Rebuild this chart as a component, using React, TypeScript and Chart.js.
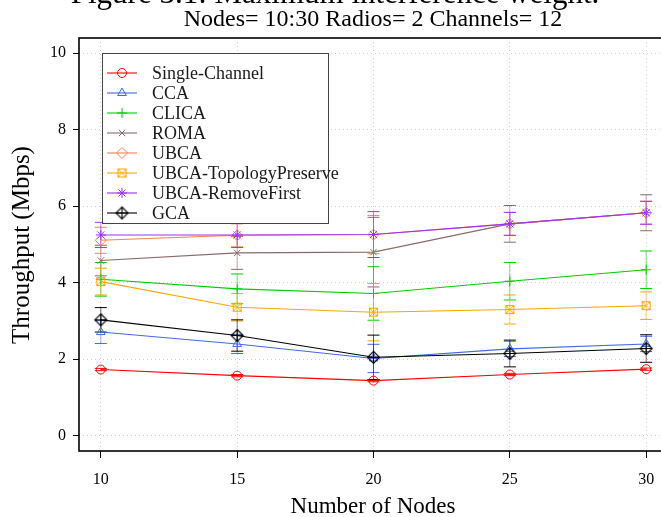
import { useEffect, useRef } from "react";
import { Chart, registerables } from "chart.js";
import { drawPoint } from "chart.js/helpers";

Chart.register(...registerables);

// Network sizes on the x axis
const nodes = [10, 15, 20, 25, 30];
const xTicks = [10, 15, 20, 25, 30];
const yTicks = [0, 2, 4, 6, 8, 10];

// Mean throughput (Mbps) and standard deviation per algorithm
const singleChannel = [1.73, 1.57, 1.44, 1.6, 1.74];
const singleChannelErr = [0.03, 0.03, 0.03, 0.03, 0.03];
const cca = [2.71, 2.4, 2.02, 2.27, 2.4];
const ccaErr = [0.3, 0.25, 0.37, 0.2, 0.2];
const clica = [4.09, 3.84, 3.72, 4.04, 4.34];
const clicaErr = [0.44, 0.39, 0.7, 0.49, 0.49];
const roma = [4.58, 4.78, 4.8, 5.54, 5.83];
const romaErr = [0.4, 0.43, 0.91, 0.48, 0.47];
const ubca = [5.11, 5.24, 5.26, 5.54, 5.83];
const ubcaErr = [0.34, 0.3, 0.5, 0.3, 0.3];
const ubcaTopology = [4.03, 3.36, 3.23, 3.3, 3.4];
const ubcaTopologyErr = [0.35, 0.36, 0.75, 0.38, 0.36];
const ubcaRemoveFirst = [5.25, 5.25, 5.26, 5.54, 5.83];
const ubcaRemoveFirstErr = [0.33, 0.33, 0.6, 0.3, 0.3];
const gca = [3.03, 2.62, 2.05, 2.15, 2.28];
const gcaErr = [0.32, 0.41, 0.58, 0.35, 0.36];

const seriesNames = [
  "Single-Channel",
  "CCA",
  "CLICA",
  "ROMA",
  "UBCA",
  "UBCA-TopologyPreserve",
  "UBCA-RemoveFirst",
  "GCA",
];
const seriesValues = [singleChannel, cca, clica, roma, ubca, ubcaTopology, ubcaRemoveFirst, gca];
const seriesErrors = [
  singleChannelErr,
  ccaErr,
  clicaErr,
  romaErr,
  ubcaErr,
  ubcaTopologyErr,
  ubcaRemoveFirstErr,
  gcaErr,
];
const seriesColors = [
  "#ff0000",
  "#4169e1",
  "#00cd00",
  "#8b6969",
  "#ff7f50",
  "#ffa500",
  "#9b30ff",
  "#000000",
];

const titleText = "Figure 3.1: Maximum interference weight.";
const subtitleText = "Nodes= 10:30 Radios= 2 Channels= 12";
const xTitle = "Number of Nodes";
const yTitle = "Throughput (Mbps)";

const SERIF = '"Liberation Serif", "Times New Roman", serif';

// Square with an X through it
function boxedCross(color: string): HTMLCanvasElement {
  const c = document.createElement("canvas");
  c.width = 13;
  c.height = 13;
  const g = c.getContext("2d")!;
  g.strokeStyle = color;
  g.lineWidth = 1;
  g.strokeRect(2.5, 2.5, 8, 8);
  g.beginPath();
  g.moveTo(2.5, 2.5);
  g.lineTo(10.5, 10.5);
  g.moveTo(10.5, 2.5);
  g.lineTo(2.5, 10.5);
  g.stroke();
  return c;
}

// Diamond with a plus inside
function diamondPlus(color: string): HTMLCanvasElement {
  const c = document.createElement("canvas");
  c.width = 15;
  c.height = 15;
  const g = c.getContext("2d")!;
  g.strokeStyle = color;
  g.lineWidth = 1.1;
  g.beginPath();
  g.moveTo(7.5, 1.5);
  g.lineTo(13.5, 7.5);
  g.lineTo(7.5, 13.5);
  g.lineTo(1.5, 7.5);
  g.closePath();
  g.moveTo(1.5, 7.5);
  g.lineTo(13.5, 7.5);
  g.moveTo(7.5, 1.5);
  g.lineTo(7.5, 13.5);
  g.stroke();
  return c;
}

export default function App() {
  const canvasRef = useRef<HTMLCanvasElement | null>(null);

  useEffect(() => {
    const canvas = canvasRef.current;
    if (!canvas) return;

    const pointStyles: any[] = [
      "circle",
      "triangle",
      "cross",
      "crossRot",
      "rectRot",
      boxedCross(seriesColors[5]),
      "star",
      diamondPlus(seriesColors[7]),
    ];
    const pointRadii = [4.5, 5, 5, 4.5, 5.5, 5, 5, 6];

    const datasets = seriesNames.map((name, i) => ({
      label: name,
      data: nodes.map((n, j) => ({ x: n, y: seriesValues[i][j] })),
      showLine: true,
      borderColor: seriesColors[i],
      borderWidth: 1.1,
      backgroundColor: "rgba(0,0,0,0)",
      pointStyle: pointStyles[i],
      pointRadius: pointRadii[i],
      pointBorderWidth: 1,
      pointBorderColor: seriesColors[i],
      pointBackgroundColor: "rgba(0,0,0,0)",
      order: -i,
    }));

    const errorBars = {
      id: "errorBars",
      beforeDatasetsDraw(chart: any) {
        const { ctx, scales } = chart;
        ctx.save();
        seriesValues.forEach((vals, i) => {
          ctx.strokeStyle = seriesColors[i];
          ctx.lineWidth = 1;
          vals.forEach((v, j) => {
            const e = seriesErrors[i][j];
            const x = scales.x.getPixelForValue(nodes[j]);
            const yTop = scales.y.getPixelForValue(v + e);
            const yBot = scales.y.getPixelForValue(v - e);
            ctx.globalAlpha = 0.55;
            ctx.beginPath();
            ctx.moveTo(x, yTop);
            ctx.lineTo(x, yBot);
            ctx.stroke();
            ctx.globalAlpha = 1;
            ctx.beginPath();
            ctx.moveTo(x - 6, yTop);
            ctx.lineTo(x + 6, yTop);
            ctx.moveTo(x - 6, yBot);
            ctx.lineTo(x + 6, yBot);
            ctx.stroke();
          });
        });
        ctx.restore();
      },
    };

    const decorations = {
      id: "decorations",
      afterDraw(chart: any) {
        const { ctx, chartArea } = chart;
        ctx.save();

        // plot frame
        ctx.strokeStyle = "#000";
        ctx.lineWidth = 1.6;
        ctx.strokeRect(
          chartArea.left,
          chartArea.top,
          chartArea.right - chartArea.left,
          chartArea.bottom - chartArea.top
        );

        // titles
        ctx.fillStyle = "#000";
        ctx.textAlign = "center";
        ctx.textBaseline = "alphabetic";
        ctx.font = `31px ${SERIF}`;
        ctx.fillText(titleText, 335, 3);
        ctx.font = `24px ${SERIF}`;
        ctx.fillText(subtitleText, 373, 26);

        // axis titles
        ctx.textBaseline = "middle";
        ctx.font = `23px ${SERIF}`;
        ctx.fillText(xTitle, 373, 507);
        ctx.font = `25px ${SERIF}`;
        ctx.save();
        ctx.translate(22, 245);
        ctx.rotate(-Math.PI / 2);
        ctx.fillText(yTitle, 0, 0);
        ctx.restore();

        // legend
        const lx = 102.5;
        const ly = 53.5;
        ctx.fillStyle = "#fff";
        ctx.fillRect(lx, ly, 226, 170);
        ctx.strokeStyle = "#444";
        ctx.lineWidth = 1;
        ctx.strokeRect(lx, ly, 226, 170);
        ctx.font = `18px ${SERIF}`;
        ctx.textAlign = "left";
        ctx.textBaseline = "middle";
        seriesNames.forEach((name, i) => {
          const y = 73 + i * 20;
          ctx.strokeStyle = seriesColors[i];
          ctx.lineWidth = 1.1;
          ctx.beginPath();
          ctx.moveTo(107, y);
          ctx.lineTo(137, y);
          ctx.stroke();
          ctx.fillStyle = "rgba(0,0,0,0)";
          ctx.lineWidth = 1;
          drawPoint(
            ctx,
            { pointStyle: pointStyles[i], rotation: 0, radius: pointRadii[i], borderWidth: 1 } as any,
            122,
            y
          );
          ctx.fillStyle = "#1a1a1a";
          ctx.fillText(name, 152, y + 1);
        });

        ctx.restore();
      },
    };

    const chart = new Chart(canvas, {
      type: "scatter",
      data: { datasets: datasets as any },
      options: {
        animation: false,
        responsive: false,
        devicePixelRatio: 1,
        events: [],
        layout: { padding: { top: 38, right: 12, left: 0, bottom: 0 } },
        plugins: {
          legend: { display: false },
          tooltip: { enabled: false },
          title: { display: false },
        },
        scales: {
          x: {
            type: "linear",
            min: 9.2,
            max: 30.8,
            afterBuildTicks: (s: any) => {
              s.ticks = xTicks.map((v) => ({ value: v }));
            },
            afterFit: (s: any) => {
              s.height = 66;
            },
            grid: {
              color: "#cfcfcf",
              lineWidth: 1,
              tickColor: "#000",
              tickLength: 7,
              tickWidth: 1,
            },
            border: { display: false, dash: [1, 3] },
            ticks: {
              color: "#000",
              font: { family: SERIF, size: 16 },
              padding: 12,
              maxRotation: 0,
              callback: (v: any) => String(v),
            },
          },
          y: {
            type: "linear",
            min: -0.4,
            max: 10.4,
            afterBuildTicks: (s: any) => {
              s.ticks = yTicks.map((v) => ({ value: v }));
            },
            afterFit: (s: any) => {
              s.width = 79;
            },
            grid: {
              color: "#cfcfcf",
              lineWidth: 1,
              tickColor: "#000",
              tickLength: 6,
              tickWidth: 1,
            },
            border: { display: false, dash: [1, 3] },
            ticks: {
              color: "#000",
              font: { family: SERIF, size: 16 },
              padding: 7,
              callback: (v: any) => String(v),
            },
          },
        },
      },
      plugins: [errorBars, decorations],
    });

    return () => chart.destroy();
  }, []);

  return (
    <div
      style={{
        position: "fixed",
        left: 0,
        top: 0,
        width: 661,
        height: 517,
        overflow: "hidden",
        background: "#fff",
      }}
    >
      <canvas ref={canvasRef} width={680} height={517} style={{ display: "block" }} />
    </div>
  );
}
